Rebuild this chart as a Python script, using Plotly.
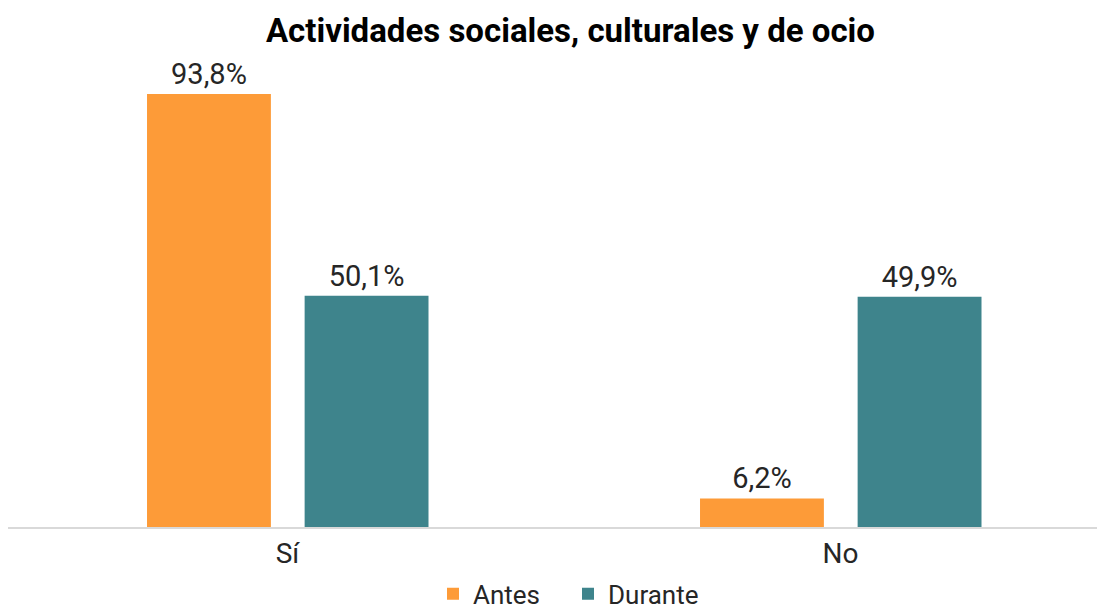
import plotly.graph_objects as go

categories = ["Sí", "No"]
series_names = ["Antes", "Durante"]
antes = [93.8, 6.2]
durante = [50.1, 49.9]
colors = ["#FD9B38", "#3E848C"]

def fmt(v):
    return f"{v:.1f}".replace(".", ",") + "%"

FONT = "Roboto"

fig = go.Figure()
for name, vals, col, off in [(series_names[0], antes, colors[0], -0.254),
                             (series_names[1], durante, colors[1], 0.031)]:
    fig.add_trace(go.Bar(
        x=categories, y=vals, name=name, marker_color=col, marker_line_width=0,
        width=0.224, offset=off,
        text=[fmt(v) for v in vals], textposition="outside",
        textfont=dict(size=29, color="#262626", family=FONT),
        cliponaxis=False,
    ))

fig.update_layout(
    width=1105, height=610,
    margin=dict(l=0, r=0, t=70, b=91, autoexpand=False),
    paper_bgcolor="white", plot_bgcolor="white",
    barmode="group",
    title=dict(text="<b>Actividades sociales, culturales y de ocio</b>",
               x=0.509, xref="container", xanchor="center",
               y=1 - 22 / 610, yref="container", yanchor="middle",
               font=dict(size=33, color="black", family=FONT)),
    xaxis=dict(range=[-0.5054, 1.4928], showline=True, linecolor="#D9D9D9", linewidth=2,
               showgrid=False, ticks="",
               tickfont=dict(size=28, color="#262626", family=FONT)),
    yaxis=dict(range=[0, 97.27], visible=False, showgrid=False),
    legend=dict(orientation="h", x=425 / 1105, xanchor="left", y=-0.149, yanchor="middle",
                font=dict(size=26, color="#262626", family=FONT),
                itemwidth=30, tracegroupgap=0, entrywidth=90, entrywidthmode="pixels"),
    showlegend=True,
)

fig.write_html("out.html")
